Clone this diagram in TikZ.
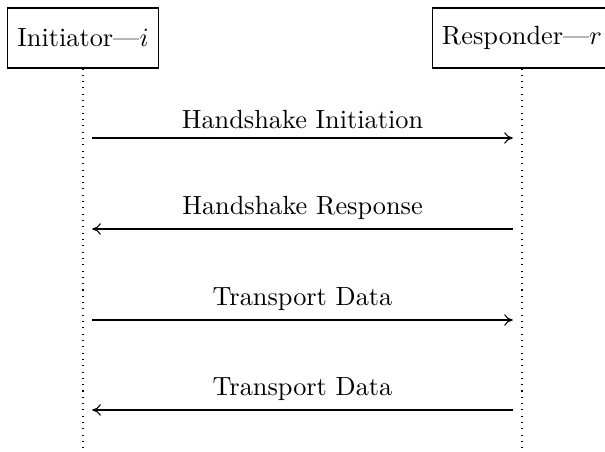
\documentclass[tikz,border=0pt]{standalone}
\usetikzlibrary{arrows.meta}
\begin{document}
\begin{tikzpicture}[x=0.3802pt,y=-0.3802pt,
  actor/.style={draw, line width=0.4pt, minimum height=22.8pt, inner xsep=3.6pt},
  lifeline/.style={dotted, line width=0.4pt},
  msg/.style={-{To[length=3.3pt,width=4.4pt]}, line width=0.4pt},
  msglabel/.style={above, inner sep=3.3pt}]
  \useasboundingbox (0,0) rectangle (605,451);

  % participants
  \node[actor] (ini) at (83,38) {Initiator---$i$};
  \node[actor] (res) at (522,38) {Responder---$r$};

  % lifeline ends
  \coordinate (iniend) at (83,451);
  \coordinate (resend) at (522,451);
  \draw[lifeline] (ini.south) -- (iniend);
  \draw[lifeline] (res.south) -- (resend);

  % message anchors on the lifelines
  \coordinate (i1) at (83,138);  \coordinate (r1) at (522,138);
  \coordinate (i2) at (83,229);  \coordinate (r2) at (522,229);
  \coordinate (i3) at (83,320);  \coordinate (r3) at (522,320);
  \coordinate (i4) at (83,410);  \coordinate (r4) at (522,410);

  % messages
  \draw[msg] ([xshift=3.5pt]i1) -- ([xshift=-3.5pt]r1)
    node[midway, msglabel] {Handshake Initiation};
  \draw[msg] ([xshift=-3.5pt]r2) -- ([xshift=3.5pt]i2)
    node[midway, msglabel] {Handshake Response};
  \draw[msg] ([xshift=3.5pt]i3) -- ([xshift=-3.5pt]r3)
    node[midway, msglabel] {Transport Data};
  \draw[msg] ([xshift=-3.5pt]r4) -- ([xshift=3.5pt]i4)
    node[midway, msglabel] {Transport Data};
\end{tikzpicture}
\end{document}
